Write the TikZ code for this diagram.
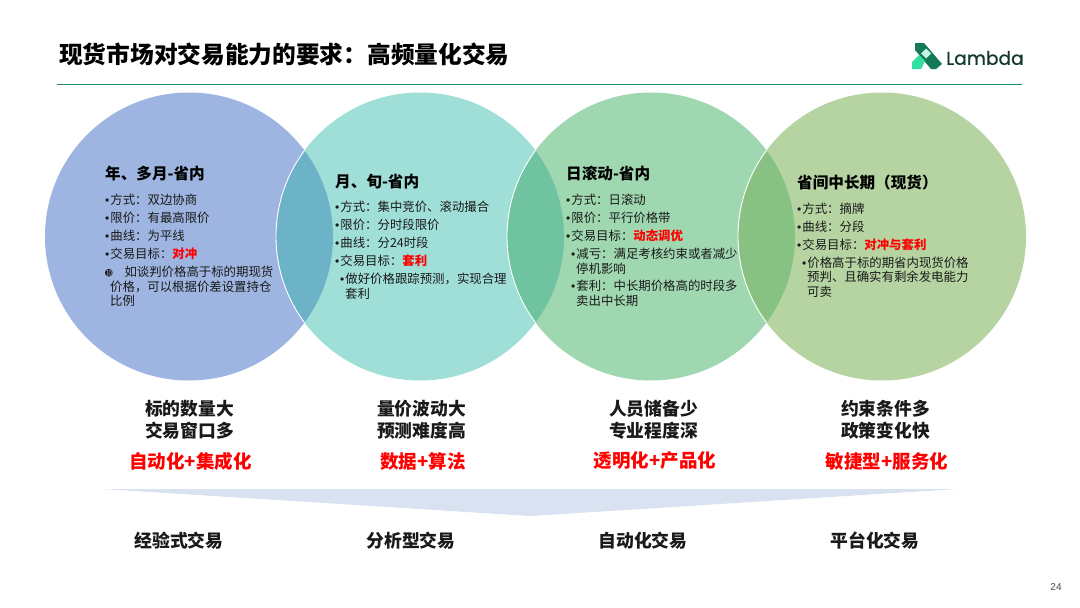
\documentclass[tikz,border=0pt]{standalone}
\usepackage{fontspec}
\setmainfont{Noto Sans CJK SC}
\newfontfamily\latinf{Liberation Sans}
\newfontfamily\logof[FakeBold=0.7]{Poppins}
\definecolor{cA}{HTML}{9DB5E0}
\definecolor{cB}{HTML}{A0DFD8}
\definecolor{cC}{HTML}{9FD8B0}
\definecolor{cD}{HTML}{B6D4A2}
\definecolor{lAB}{HTML}{6DB3C8}
\definecolor{lBC}{HTML}{6FC3A0}
\definecolor{lCD}{HTML}{88C283}
\definecolor{rule}{HTML}{1F8F6C}
\definecolor{chev}{HTML}{D9E2F1}
\definecolor{txt}{HTML}{1A1A1A}
\definecolor{logoD}{HTML}{137A57}
\definecolor{logoL}{HTML}{2FE0A0}
\definecolor{logoT}{HTML}{12392E}
\newcommand{\hot}[1]{\textcolor{red}{\textbf{#1}}}
\newcommand{\bu}{\makebox[5.2pt][l]{\latinf\fontsize{12}{12}\selectfont •}}
\tikzset{
  x=1pt,y=-1pt,
  disc/.style={circle,minimum size=288pt,inner sep=0pt,outer sep=0pt},
  head/.style={anchor=west,inner sep=0pt,font=\fontsize{15.6}{17}\selectfont\bfseries,text=black},
  item/.style={anchor=west,inner sep=0pt,font=\fontsize{12.4}{14}\selectfont,text=txt},
  dual/.style={anchor=center,inner sep=0pt,font=\fontsize{17.8}{20}\selectfont\bfseries,text=txt},
  goal/.style={anchor=center,inner sep=0pt,font=\fontsize{18.5}{20}\selectfont\bfseries,text=red},
  kind/.style={anchor=center,inner sep=0pt,font=\fontsize{17.8}{20}\selectfont\bfseries,text=txt},
}
\begin{document}
\begin{tikzpicture}
\useasboundingbox (0,0) rectangle (1080,608);
\fill[white] (0,0) rectangle (1080,608);
% title, rule
\node (title) [anchor=west,inner sep=0pt,font=\fontsize{23.7}{26}\selectfont\bfseries,text=black] at (59,54.5) {现货市场对交易能力的要求：高频量化交易};
\coordinate (ruleL) at (57,84.5); \coordinate (ruleR) at (1022,84.5);
\draw[rule,line width=1.5pt] (ruleL) -- (ruleR);
% logo
\fill[logoD] (915,43) -- (924,43) -- (942,64) -- (936,69) -- (931,69) -- (915,50) -- cycle;
\fill[white!70!logoL] (926,48.5) -- (931,53.5) -- (926,58.5) -- (921,53.5) -- cycle;
\fill[logoL] (912,69) -- (912,62) -- (919,55) -- (925,61) -- (921,69) -- cycle;
\node (lambda) [anchor=west,inner sep=0pt,font=\logof\fontsize{18.6}{22}\selectfont,text=logoT] at (946,58) {Lambda};
% circles
\node (c1) [disc,fill=cA] at (189,236.5) {};
\node (c2) [disc,fill=cB] at (420,236.5) {};
\node (c3) [disc,fill=cC] at (651,236.5) {};
\node (c4) [disc,fill=cD] at (882,236.5) {};
\begin{scope}
  \clip (189,236.5) circle (144);
  \fill[lAB] (420,236.5) circle (144);
  \draw[white,line width=.9pt] (420,236.5) circle (144);
\end{scope}
\begin{scope}
  \clip (420,236.5) circle (144);
  \fill[lBC] (651,236.5) circle (144);
  \draw[white,line width=.9pt] (651,236.5) circle (144);
\end{scope}
\begin{scope}
  \clip (651,236.5) circle (144);
  \fill[lCD] (882,236.5) circle (144);
  \draw[white,line width=.9pt] (882,236.5) circle (144);
\end{scope}
% circle 1
\node (a0) [head] at (105,174) {年、多月-省内};
\node (a1) [item] at (105,200) {\bu 方式：双边协商};
\node (a2) [item] at (105,218) {\bu 限价：有最高限价};
\node (a3) [item] at (105,236) {\bu 曲线：为平线};
\node (a4) [item] at (105,254) {\bu 交易目标：\hot{对冲}};
\node (a5) [item] at (105,272) {\makebox[19.3pt][l]{\fontsize{9}{9}\selectfont\fontspec{DejaVu Sans}➓}如谈判价格高于标的期现货};
\node (a6) [item] at (110,286.5) {价格，可以根据价差设置持仓};
\node (a7) [item] at (110,301) {比例};
% circle 2
\node (b0) [head] at (335,182) {月、旬-省内};
\node (b1) [item] at (335,207) {\bu 方式：集中竞价、滚动撮合};
\node (b2) [item] at (335,225) {\bu 限价：分时段限价};
\node (b3) [item] at (335,243) {\bu 曲线：分24时段};
\node (b4) [item] at (335,261) {\bu 交易目标：\hot{套利}};
\node (b5) [item] at (340,279) {\bu 做好价格跟踪预测，实现合理};
\node (b6) [item] at (345,293.5) {套利};
% circle 3
\node (d0) [head] at (566,174) {日滚动-省内};
\node (d1) [item] at (566,200) {\bu 方式：日滚动};
\node (d2) [item] at (566,218) {\bu 限价：平行价格带};
\node (d3) [item] at (566,236) {\bu 交易目标：\hot{动态调优}};
\node (d4) [item] at (571,254) {\bu 减亏：满足考核约束或者减少};
\node (d5) [item] at (576,268.5) {停机影响};
\node (d6) [item] at (571,286) {\bu 套利：中长期价格高的时段多};
\node (d7) [item] at (576,300.5) {卖出中长期};
% circle 4
\node (e0) [head] at (797,183) {省间中长期（现货）};
\node (e1) [item] at (797,209) {\bu 方式：摘牌};
\node (e2) [item] at (797,227) {\bu 曲线：分段};
\node (e3) [item] at (797,245) {\bu 交易目标：\hot{对冲与套利}};
\node (e4) [item] at (802,262.5) {\bu 价格高于标的期省内现货价格};
\node (e5) [item] at (807,277) {预判、且确实有剩余发电能力};
\node (e6) [item] at (807,291.5) {可卖};
% features
\node (f1a) [dual] at (189.5,409) {标的数量大};
\node (f1b) [dual] at (189.5,431) {交易窗口多};
\node (f2a) [dual] at (421.5,409) {量价波动大};
\node (f2b) [dual] at (421.5,431) {预测难度高};
\node (f3a) [dual] at (653.5,409) {人员储备少};
\node (f3b) [dual] at (653.5,431) {专业程度深};
\node (f4a) [dual] at (885.5,409) {约束条件多};
\node (f4b) [dual] at (885.5,431) {政策变化快};
\node (g1) [goal] at (190.5,461) {自动化+集成化};
\node (g2) [goal] at (423,461) {数据+算法};
\node (g3) [goal] at (655,461) {透明化+产品化};
\node (g4) [goal] at (887,461) {敏捷型+服务化};
% chevron
\fill[chev] (103,489) -- (957,489) -- (530,516) -- cycle;
% kinds
\node (k1) [kind] at (179,540.5) {经验式交易};
\node (k2) [kind] at (411,540.5) {分析型交易};
\node (k3) [kind] at (643,540.5) {自动化交易};
\node (k4) [kind] at (875,540.5) {平台化交易};
\node (pg) [anchor=center,inner sep=0pt,font=\latinf\fontsize{10}{12}\selectfont,text=black!70] at (1056,587) {24};
\end{tikzpicture}
\end{document}
